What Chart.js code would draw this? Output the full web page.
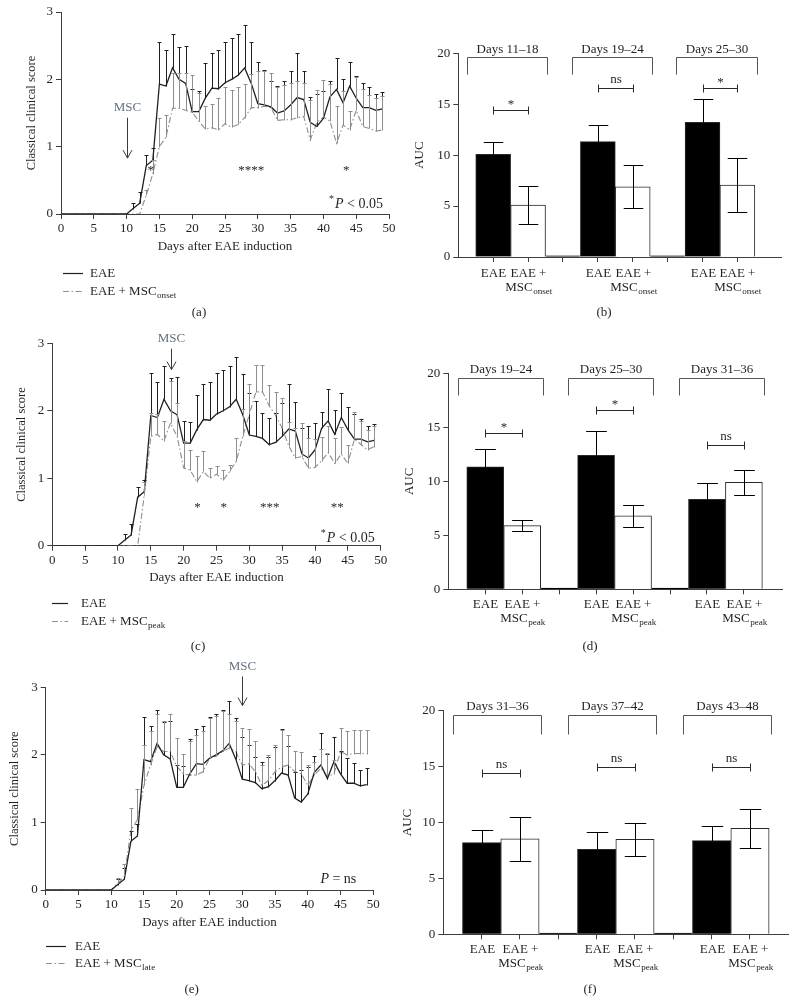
<!DOCTYPE html>
<html>
<head>
<meta charset="utf-8">
<title>EAE clinical score and AUC</title>
<script src="https://cdn.jsdelivr.net/npm/chart.js@4.4.1/dist/chart.umd.min.js"></script>
<style>
  html, body { margin: 0; padding: 0; background: #fff; }
  #page { position: relative; width: 797px; height: 1004px; overflow: hidden; }
  #page canvas { position: absolute; }
</style>
</head>
<body>
<div id="page">
  <canvas id="chartA" width="400" height="325" style="left:0px;top:0px"></canvas>
  <canvas id="chartB" width="397" height="325" style="left:400px;top:0px"></canvas>
  <canvas id="chartC" width="400" height="335" style="left:0px;top:325px"></canvas>
  <canvas id="chartD" width="397" height="335" style="left:400px;top:325px"></canvas>
  <canvas id="chartE" width="400" height="344" style="left:0px;top:660px"></canvas>
  <canvas id="chartF" width="397" height="344" style="left:400px;top:660px"></canvas>
</div>
<script>
// days after EAE induction
var days = [0,1,2,3,4,5,6,7,8,9,10,11,12,13,14,15,16,17,18,19,20,21,22,23,24,
            25,26,27,28,29,30,31,32,33,34,35,36,37,38,39,40,41,42,43,44,45,46,47,48,49];

// untreated EAE (same curve in a, c, e)
var eaeScore = [0,0,0,0,0,0,0,0,0,0,0,0.08,0.16,0.72,0.8,1.93,1.9,2.17,2.0,1.94,
                1.52,1.52,1.72,1.87,1.86,1.95,2.0,2.06,2.17,1.94,1.64,1.62,1.59,1.5,1.53,
                1.62,1.73,1.7,1.36,1.3,1.42,1.74,1.85,1.65,1.9,1.72,1.58,1.58,1.54,1.56];
var eaeSem   = [0,0,0,0,0,0,0,0,0,0,0,0.09,0.16,0.15,0.18,0.63,0.53,0.5,0.48,0.56,
                0.33,0.31,0.52,0.52,0.57,0.61,0.61,0.61,0.63,0.61,0.62,0.52,0.38,0.4,0.44,
                0.5,0.66,0.43,0.38,0.48,0.4,0.24,0.47,0.36,0.36,0.33,0.37,0.3,0.24,0.25];

// EAE + MSC at onset (a)
var onsetScore = [0,0,0,0,0,0,0,0,0,0,0,0,0,0.28,0.6,1.0,1.14,1.57,1.57,1.54,
                  1.51,1.38,1.26,1.28,1.25,1.34,1.29,1.33,1.43,1.58,1.58,1.6,1.58,1.39,1.4,
                  1.4,1.43,1.45,1.1,1.36,1.44,1.38,1.05,1.32,1.25,1.54,1.3,1.27,1.23,1.25];
var onsetSem   = [0,0,0,0,0,0,0,0,0,0,0,0,0,0.08,0.2,0.43,0.33,0.53,0.53,0.55,
                  0.55,0.42,0.35,0.36,0.48,0.55,0.55,0.55,0.5,0.5,0.55,0.52,0.52,0.5,0.52,
                  0.55,0.55,0.5,0.6,0.48,0.55,0.55,0.55,0.5,0.28,0.5,0.55,0.5,0.5,0.5];

// EAE + MSC at peak (c)
var peakScore = [0,0,0,0,0,0,0,0,0,0,0,0,0,0,0.75,1.62,1.65,1.55,1.82,1.62,
                 1.15,1.12,0.95,1.1,1.0,1.06,0.97,1.1,1.25,1.62,1.95,2.28,2.28,2.08,1.93,
                 1.74,1.48,1.3,1.32,1.15,1.16,1.26,1.38,1.22,1.36,1.22,1.58,1.5,1.42,1.47];
var peakSem   = [0,0,0,0,0,0,0,0,0,0,0,0,0,0,0.2,0.35,0.3,0.3,0.62,0.5,
                 0.4,0.3,0.38,0.3,0.15,0.12,0.15,0.1,0.35,0.4,0.45,0.4,0.4,0.3,0.35,
                 0.45,0.35,0.45,0.5,0.45,0.42,0.35,0.4,0.38,0.4,0.28,0.4,0.35,0.3,0.3];

// EAE + MSC late (e)
var lateScore = [0,0,0,0,0,0,0,0,0,0,0,0.1,0.2,0.88,1.04,1.55,1.85,2.12,2.05,2.05,
                 1.83,1.72,1.7,1.7,1.75,1.95,1.98,2.05,2.1,2.05,1.85,1.87,1.75,1.55,1.62,
                 1.75,1.82,1.85,1.75,1.72,1.55,1.7,1.8,1.68,1.72,2.05,2.0,2.02,2.02,2.02];
var lateSem   = [0,0,0,0,0,0,0,0,0,0,0,0.08,0.18,0.33,0.45,0.6,0.5,0.48,0.45,0.55,
                 0.42,0.3,0.5,0.6,0.6,0.6,0.6,0.6,0.5,0.45,0.55,0.52,0.45,0.3,0.38,
                 0.4,0.55,0.45,0.3,0.32,0.3,0.2,0.28,0.35,0.2,0.35,0.35,0.35,0.35,0.35];

// AUC panels
var periodsB = ['Days 11\u201318', 'Days 19\u201324', 'Days 25\u201330'];
var aucEaeB  = [10.08, 11.33, 13.22];
var semEaeB  = [1.18, 1.67, 2.33];
var aucMscB  = [5.1, 6.9, 7.07];
var semMscB  = [1.83, 2.12, 2.65];
var sigB     = ['*', 'ns', '*'];

var periodsD = ['Days 19\u201324', 'Days 25\u201330', 'Days 31\u201336'];
var aucEaeD  = [11.33, 12.4, 8.33];
var semEaeD  = [1.63, 2.23, 1.55];
var aucMscD  = [5.9, 6.8, 9.9];
var semMscD  = [0.53, 1.0, 1.15];
var sigD     = ['*', '*', 'ns'];

var periodsF = ['Days 31\u201336', 'Days 37\u201342', 'Days 43\u201348'];
var aucEaeF  = [8.2, 7.6, 8.38];
var semEaeF  = [1.13, 1.58, 1.31];
var aucMscF  = [8.55, 8.49, 9.48];
var semMscF  = [1.97, 1.5, 1.77];
var sigF     = ['ns', 'ns', 'ns'];

var spacer = 0.12;   // thin separator bar between periods
var slots  = [1, 2, 3, 4, 5, 6, 7, 8];

var FONT  = '"Liberation Serif", "Times New Roman", serif';
var INK   = '#231f20';
var AXIS  = '#3e3e3e';
var GREY  = '#8e8e8e';
var SLATE = '#66717e';
var DASHDOT = [6, 2.5, 1.5, 2.5];

function f(size, style) {
    return (style ? style + ' ' : '') + size + 'px ' + FONT;
}

function pts(ys) {
    return days.map(function (d, i) { return { x: d, y: ys[i] }; });
}

// text with a subscript tail, centred or left aligned
function subText(c, x, y, main, sub, size, align) {
    c.font = f(size);
    var w1 = c.measureText(main).width;
    c.font = f(size * 0.7);
    var w2 = sub ? c.measureText(sub).width : 0;
    var x0 = align === 'left' ? x : x - (w1 + w2) / 2;
    c.textAlign = 'left';
    c.textBaseline = 'middle';
    c.font = f(size);
    c.fillText(main, x0, y);
    if (sub) {
        c.font = f(size * 0.7);
        c.fillText(sub, x0 + w1 + 0.5, y + size * 0.3);
    }
}

var errorBars = {
    id: 'errorBars',
    afterDatasetsDraw: function (chart) {
        var c = chart.ctx, ys = chart.scales.y;
        chart.data.datasets.forEach(function (ds, k) {
            if (!ds.errors) return;
            var meta = chart.getDatasetMeta(k);
            c.save();
            c.strokeStyle = ds.errorColor;
            c.lineWidth = 1;
            meta.data.forEach(function (el, i) {
                var e = ds.errors[i];
                if (!e) return;
                var v = ds.data[i].y;
                var x = Math.round(el.x) + 0.5;
                var top = Math.round(ys.getPixelForValue(v + e)) + 0.5;
                var bot = Math.round(ys.getPixelForValue(ds.bothWays ? v - e : v)) + 0.5;
                var half = el.width ? el.width * 0.28 : 2;
                c.beginPath();
                c.moveTo(x, bot); c.lineTo(x, top);
                c.moveTo(x - half, top); c.lineTo(x + half, top);
                if (ds.bothWays) { c.moveTo(x - half, bot); c.lineTo(x + half, bot); }
                c.stroke();
            });
            c.restore();
        });
    }
};

function pNote(c, xr, y, sig) {
    var parts = sig
        ? [['*', f(10), -5], ['P', f(14, 'italic'), 0], [' < 0.05', f(14), 0]]
        : [['P', f(14, 'italic'), 0], [' = ns', f(14), 0]];
    var w = 0;
    parts.forEach(function (p) { c.font = p[1]; p.push(c.measureText(p[0]).width); w += p[3]; });
    var x = xr - w;
    c.textAlign = 'left';
    c.fillStyle = INK;
    parts.forEach(function (p) { c.font = p[1]; c.fillText(p[0], x, y + p[2]); x += p[3] + (p[0] === '*' ? 1 : 0); });
}

function legendRow(c, L, row, main, sub, color, dash) {
    var y = Math.round(L.y + row * L.gap) + 0.5;
    c.save();
    c.strokeStyle = color;
    c.lineWidth = 1.2;
    c.setLineDash(dash);
    c.beginPath(); c.moveTo(L.x0, y); c.lineTo(L.x1, y); c.stroke();
    c.restore();
    c.fillStyle = INK;
    subText(c, L.tx, y, main, sub, 13, 'left');
}

function lineNotes(o) {
    return {
        id: 'lineNotes',
        afterDraw: function (chart) {
            var c = chart.ctx, xs = chart.scales.x, ys = chart.scales.y, area = chart.chartArea;
            c.save();
            c.textBaseline = 'middle';
            // MSC injection arrow
            var ax = Math.round(xs.getPixelForValue(o.arrow[0])) + 0.5;
            var a0 = ys.getPixelForValue(o.arrow[1]), a1 = ys.getPixelForValue(o.arrow[2]);
            c.strokeStyle = '#3a3a3a';
            c.lineWidth = 1;
            c.beginPath();
            c.moveTo(ax, a0); c.lineTo(ax, a1);
            c.moveTo(ax - 4.5, a1 - 8); c.lineTo(ax, a1); c.lineTo(ax + 4.5, a1 - 8);
            c.stroke();
            c.fillStyle = SLATE; c.font = f(13); c.textAlign = 'center';
            c.fillText('MSC', ax, a0 - 10);
            // significance marks
            c.fillStyle = INK; c.font = f(13);
            o.stars.forEach(function (s, i) {
                c.fillText(s, xs.getPixelForValue(o.starDays[i]), ys.getPixelForValue(o.starLevel));
            });
            pNote(c, area.right - o.pInset, ys.getPixelForValue(o.pLevel), o.pSig);
            legendRow(c, o.legend, 0, 'EAE', '', INK, []);
            legendRow(c, o.legend, 1, 'EAE + MSC', o.sub, GREY, DASHDOT);
            c.fillStyle = INK; c.font = f(13); c.textAlign = 'center';
            c.fillText(o.letter, o.letterAt[0], o.letterAt[1]);
            c.restore();
        }
    };
}

function lineChart(id, o) {
    return new Chart(document.getElementById(id).getContext('2d'), {
        type: 'line',
        data: {
            datasets: [{
                label: 'EAE', data: pts(eaeScore), errors: eaeSem, errorColor: INK,
                borderColor: INK, borderWidth: 1.3
            }, {
                label: 'EAE + MSC' + o.sub, data: pts(o.score), errors: o.sem, errorColor: GREY,
                borderColor: GREY, borderWidth: 1.1, borderDash: DASHDOT
            }]
        },
        options: {
            responsive: false,
            animation: false,
            layout: { padding: o.pad },
            elements: { point: { radius: 0 }, line: { tension: 0, fill: false } },
            plugins: { legend: { display: false }, tooltip: { enabled: false } },
            scales: {
                x: {
                    type: 'linear', min: 0, max: 50,
                    afterFit: function (s) { s.height = 45; },
                    border: { color: AXIS },
                    grid: { drawOnChartArea: false, tickLength: 5, color: AXIS },
                    ticks: { stepSize: 5, autoSkip: false, maxRotation: 0, padding: 2, color: INK,
                             font: { family: FONT, size: 13 } },
                    title: { display: true, text: 'Days after EAE induction', color: INK,
                             font: { family: FONT, size: 13 }, padding: { top: 0, bottom: o.xTitle } }
                },
                y: {
                    min: 0, max: 3,
                    afterFit: function (s) { s.width = o.yw; },
                    border: { color: AXIS },
                    grid: { drawOnChartArea: false, tickLength: 5, color: AXIS },
                    ticks: { stepSize: 1, padding: 3, color: INK, font: { family: FONT, size: 13 } },
                    title: { display: true, text: 'Classical clinical score', color: INK,
                             font: { family: FONT, size: 12.5 }, padding: { top: o.yTitle, bottom: 0 } }
                }
            }
        },
        plugins: [errorBars, lineNotes(o)]
    });
}

function barNotes(o) {
    return {
        id: 'barNotes',
        afterDraw: function (chart) {
            var c = chart.ctx, xs = chart.scales.x, ys = chart.scales.y;
            var px = function (v) { return Math.round(xs.getPixelForValue(v)) + 0.5; };
            var py = function (v) { return Math.round(ys.getPixelForValue(v)) + 0.5; };
            c.save();
            c.lineWidth = 1;
            c.textBaseline = 'middle';
            for (var g = 0; g < 3; g++) {
                var b = 3 * g;
                // period bracket
                var l = px(b + 0.25), r = px(b + 2.55), top = py(19.6), leg = py(17.95);
                c.strokeStyle = '#555';
                c.beginPath();
                c.moveTo(l, leg); c.lineTo(l, top); c.lineTo(r, top); c.lineTo(r, leg);
                c.stroke();
                c.fillStyle = INK; c.font = f(13); c.textAlign = 'center';
                c.fillText(o.periods[g], (l + r) / 2, py(20.38));
                // significance bracket
                var sl = px(b + 1), sr = px(b + 2), sy = py(o.sigAt[g]);
                c.strokeStyle = '#2a2a2a';
                c.beginPath();
                c.moveTo(sl, sy - 4); c.lineTo(sl, sy + 4);
                c.moveTo(sl, sy); c.lineTo(sr, sy);
                c.moveTo(sr, sy - 4); c.lineTo(sr, sy + 4);
                c.stroke();
                c.textAlign = 'center';
                c.fillText(o.sig[g], (sl + sr) / 2, sy - (o.sig[g] === '*' ? 6 : 9));
                // category labels
                c.fillText('EAE', px(b + 1), o.rows[0]);
                c.fillText('EAE +', px(b + 2), o.rows[0]);
                subText(c, px(b + 2), o.rows[1], 'MSC', o.sub, 13);
            }
            c.textAlign = 'center';
            c.font = f(13);
            c.fillText(o.letter, o.letterAt[0], o.letterAt[1]);
            c.restore();
        }
    };
}

function barChart(id, o) {
    var data = [], fill = [], err = [];
    for (var g = 0; g < 3; g++) {
        data.push({ x: 3 * g + 1, y: o.eae[g] }); fill.push('#000000'); err.push(o.eaeSem[g]);
        data.push({ x: 3 * g + 2, y: o.msc[g] }); fill.push('#ffffff'); err.push(o.mscSem[g]);
        if (g < 2) { data.push({ x: 3 * g + 3, y: spacer }); fill.push('#000000'); err.push(0); }
    }
    return new Chart(document.getElementById(id).getContext('2d'), {
        type: 'bar',
        data: {
            datasets: [{
                data: data, backgroundColor: fill, borderColor: '#2a2a2a', borderWidth: 1,
                barPercentage: 1, categoryPercentage: 1,
                errors: err, errorColor: '#000000', bothWays: true
            }]
        },
        options: {
            responsive: false,
            animation: false,
            layout: { padding: o.pad },
            plugins: { legend: { display: false }, tooltip: { enabled: false } },
            scales: {
                x: {
                    type: 'linear', min: 0, max: o.xmax, offset: false,
                    afterBuildTicks: function (s) { s.ticks = slots.map(function (v) { return { value: v }; }); },
                    afterFit: function (s) { s.height = 10; },
                    border: { color: AXIS },
                    grid: { offset: false, drawOnChartArea: false, tickLength: 5, color: AXIS },
                    ticks: { display: false }
                },
                y: {
                    min: 0, max: 20,
                    afterFit: function (s) { s.width = o.yw; },
                    border: { color: AXIS },
                    grid: { drawOnChartArea: false, tickLength: 5, color: AXIS },
                    ticks: { stepSize: 5, padding: 3, color: INK, font: { family: FONT, size: 13 } },
                    title: { display: true, text: 'AUC', color: INK,
                             font: { family: FONT, size: 13 }, padding: { top: o.yTitle, bottom: 0 } }
                }
            }
        },
        plugins: [errorBars, barNotes(o)]
    });
}

lineChart('chartA', {
    score: onsetScore, sem: onsetSem, sub: 'onset',
    pad: { left: 0, top: 12, right: 11, bottom: 66 }, yw: 61, yTitle: 24.2, xTitle: 4.2,
    arrow: [10, 1.43, 0.83],
    stars: ['*', '****', '*'], starDays: [13.7, 29, 43.5], starLevel: 0.64,
    pSig: true, pLevel: 0.15, pInset: 7,
    legend: { x0: 63, x1: 83, tx: 90, y: 272.7, gap: 18 },
    letter: '(a)', letterAt: [199, 313]
});

lineChart('chartC', {
    score: peakScore, sem: peakSem, sub: 'peak',
    pad: { left: 0, top: 18.3, right: 19.3, bottom: 69.3 }, yw: 52.3, yTitle: 14.2, xTitle: 5.2,
    arrow: [18, 2.92, 2.61],
    stars: ['*', '*', '***', '**'], starDays: [22.1, 26.1, 33.1, 43.4], starLevel: 0.57,
    pSig: true, pLevel: 0.11, pInset: 7,
    legend: { x0: 52, x1: 68, tx: 81, y: 278.3, gap: 17.7 },
    letter: '(c)', letterAt: [198, 321.7]
});

lineChart('chartE', {
    score: lateScore, sem: lateSem, sub: 'late',
    pad: { left: 0, top: 27.3, right: 26.7, bottom: 69 }, yw: 45.7, yTitle: 7.5, xTitle: 4.5,
    arrow: [30, 3.16, 2.73],
    stars: [], starDays: [], starLevel: 0.6,
    pSig: false, pLevel: 0.16, pInset: 17,
    legend: { x0: 46, x1: 66, tx: 75, y: 286, gap: 16.7 },
    letter: '(e)', letterAt: [191.7, 330]
});

barChart('chartB', {
    eae: aucEaeB, eaeSem: semEaeB, msc: aucMscB, mscSem: semMscB,
    periods: periodsB, sig: sigB, sigAt: [14.47, 16.56, 16.56], sub: 'onset',
    pad: { left: 0, top: 53.3, right: 16, bottom: 58 }, yw: 58.3, yTitle: 12.2, xmax: 9.25,
    rows: [273.3, 287.3], letter: '(b)', letterAt: [204, 313]
});

barChart('chartD', {
    eae: aucEaeD, eaeSem: semEaeD, msc: aucMscD, mscSem: semMscD,
    periods: periodsD, sig: sigD, sigAt: [14.44, 16.6, 13.33], sub: 'peak',
    pad: { left: 0, top: 48.3, right: 14.3, bottom: 60.7 }, yw: 48.3, yTitle: 2.2, xmax: 9.05,
    rows: [280, 294], letter: '(d)', letterAt: [190, 321.7]
});

barChart('chartF', {
    eae: aucEaeF, eaeSem: semEaeF, msc: aucMscF, mscSem: semMscF,
    periods: periodsF, sig: sigF, sigAt: [14.4, 14.93, 14.93], sub: 'peak',
    pad: { left: 0, top: 50.7, right: 8.7, bottom: 59.7 }, yw: 43.3, yTitle: 0, xmax: 9.0,
    rows: [289.3, 303.3], letter: '(f)', letterAt: [190, 330]
});
</script>
</body>
</html>
